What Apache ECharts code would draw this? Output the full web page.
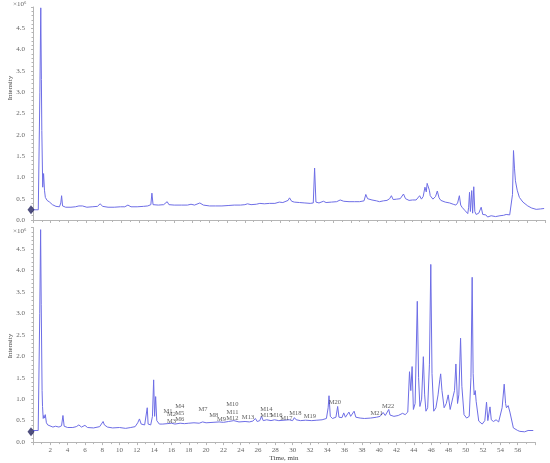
<!DOCTYPE html>
<html>
<head>
<meta charset="utf-8">
<script src="https://cdn.jsdelivr.net/npm/echarts@6/dist/echarts.min.js"></script>
<style>
  html, body { margin: 0; padding: 0; background: #fff; }
  #chart { width: 550px; height: 463px; }
</style>
</head>
<body>
<div id="chart"></div>
<script>
// tick labels
const timeTicks = [2, 4, 6, 8, 10, 12, 14, 16, 18, 20, 22, 24, 26, 28, 30, 32, 34, 36, 38, 40, 42, 44, 46, 48, 50, 52, 54, 56]
const intensityTicks = [0, 0.5, 1, 1.5, 2, 2.5, 3, 3.5, 4, 4.5]

// top chromatogram [time min, intensity x10^6]
const topTrace = [
  [0, 0.24], [0.6, 0.24], [0.7, 0.28], [0.78, 3.0], [0.88, 4.98], [0.95, 3.3], [1.0, 2.1], [1.1, 0.77], [1.2, 1.09], [1.3, 0.7],
  [1.4, 0.53], [1.6, 0.46], [1.88, 0.42], [2.2, 0.36], [2.6, 0.32], [3.0, 0.31], [3.15, 0.4], [3.24, 0.57], [3.35, 0.33], [3.7, 0.3],
  [4.3, 0.3], [4.8, 0.31], [5.2, 0.33], [5.6, 0.33], [6.1, 0.3], [6.7, 0.31], [7.3, 0.32], [7.6, 0.38], [7.9, 0.32], [8.5, 0.3],
  [9.2, 0.3], [9.9, 0.31], [10.4, 0.31], [10.75, 0.35], [11.1, 0.31], [11.8, 0.31], [12.5, 0.32], [13.0, 0.33], [13.35, 0.36], [13.47, 0.63],
  [13.6, 0.36], [14.2, 0.35], [14.8, 0.36], [15.2, 0.43], [15.4, 0.36], [16.0, 0.35], [16.8, 0.35], [17.5, 0.35], [17.9, 0.37], [18.3, 0.35],
  [18.9, 0.4], [19.3, 0.35], [20.0, 0.33], [20.7, 0.33], [21.4, 0.33], [22.1, 0.34], [22.8, 0.35], [23.5, 0.35], [24.0, 0.36], [24.3, 0.38],
  [24.7, 0.36], [25.3, 0.37], [25.7, 0.39], [26.2, 0.38], [26.8, 0.39], [27.4, 0.39], [27.9, 0.42], [28.3, 0.41], [28.9, 0.46], [29.06, 0.52],
  [29.3, 0.44], [29.6, 0.42], [30.2, 0.41], [30.8, 0.4], [31.4, 0.39], [31.75, 0.4], [31.9, 1.22], [32.05, 0.42], [32.4, 0.4], [32.9, 0.44],
  [33.2, 0.41], [33.8, 0.42], [34.4, 0.43], [34.8, 0.47], [35.2, 0.44], [35.8, 0.43], [36.4, 0.43], [37.0, 0.43], [37.5, 0.45], [37.7, 0.6],
  [37.9, 0.5], [38.1, 0.54], [38.4, 0.47], [38.9, 0.45], [39.25, 0.43], [39.7, 0.45], [40.1, 0.46], [40.4, 0.5], [40.6, 0.57], [40.8, 0.48],
  [41.2, 0.49], [41.6, 0.5], [41.97, 0.61], [42.2, 0.5], [42.6, 0.46], [43.0, 0.47], [43.4, 0.47], [43.6, 0.5], [43.8, 0.57], [44.0, 0.49],
  [44.2, 0.55], [44.4, 0.77], [44.55, 0.66], [44.65, 0.86], [44.8, 0.89], [44.9, 0.7], [45.0, 0.57], [45.3, 0.49], [45.6, 0.55], [45.8, 0.68],
  [46.0, 0.52], [46.2, 0.46], [46.7, 0.42], [47.2, 0.4], [47.6, 0.37], [47.9, 0.35], [48.1, 0.4], [48.3, 0.57], [48.45, 0.35], [48.6, 0.3],
  [48.9, 0.23], [49.25, 0.15], [49.35, 0.3], [49.45, 0.65], [49.55, 0.2], [49.62, 0.16], [49.7, 0.69], [49.8, 0.16], [49.93, 0.78], [50.05, 0.2],
  [50.2, 0.13], [50.5, 0.16], [50.77, 0.3], [50.95, 0.13], [51.1, 0.16], [51.3, 0.12], [51.5, 0.07], [51.9, 0.1], [52.4, 0.08], [52.9, 0.1],
  [53.3, 0.11], [53.6, 0.13], [54.0, 0.12], [54.2, 0.12], [54.32, 0.6], [54.43, 1.63], [54.55, 1.2], [54.65, 0.92], [54.85, 0.7], [55.1, 0.53],
  [55.5, 0.42], [56.05, 0.33], [56.5, 0.28], [57.0, 0.25], [57.5, 0.26], [57.9, 0.27]
]

// bottom chromatogram [time min, intensity x10^6]
const bottomTrace = [
  [0, 0.27], [0.6, 0.27], [0.7, 0.3], [0.78, 3.0], [0.88, 4.95], [0.95, 3.2], [1.05, 1.2], [1.1, 0.83], [1.18, 0.55], [1.26, 0.62],
  [1.35, 0.56], [1.42, 0.64], [1.55, 0.45], [1.7, 0.4], [1.9, 0.36], [2.3, 0.35], [2.6, 0.37], [3.0, 0.35], [3.3, 0.38], [3.46, 0.62],
  [3.6, 0.37], [4.0, 0.34], [4.6, 0.34], [5.0, 0.36], [5.3, 0.4], [5.6, 0.35], [6.0, 0.39], [6.3, 0.34], [7.0, 0.33], [7.7, 0.36],
  [8.1, 0.48], [8.25, 0.4], [8.4, 0.44], [8.6, 0.35], [9.2, 0.33], [10.0, 0.34], [10.7, 0.32], [11.3, 0.34], [11.8, 0.36], [12.1, 0.45],
  [12.3, 0.54], [12.5, 0.42], [12.9, 0.4], [13.1, 0.42], [13.2, 0.8], [13.3, 0.42], [13.6, 0.4], [13.8, 0.6], [13.94, 1.45], [14.05, 0.6],
  [14.17, 1.06], [14.3, 0.5], [14.6, 0.42], [15.0, 0.42], [15.5, 0.43], [16.0, 0.44], [16.4, 0.42], [17.0, 0.44], [17.5, 0.43], [18.0, 0.44],
  [18.6, 0.45], [19.2, 0.44], [19.6, 0.47], [20.0, 0.45], [20.8, 0.46], [21.5, 0.47], [22.0, 0.46], [22.6, 0.48], [23.2, 0.5], [23.8, 0.47],
  [24.5, 0.48], [25.0, 0.47], [25.4, 0.49], [25.7, 0.55], [25.9, 0.48], [26.2, 0.5], [26.4, 0.6], [26.6, 0.5], [27.0, 0.52], [27.5, 0.5],
  [27.9, 0.52], [28.4, 0.5], [29.0, 0.51], [29.6, 0.52], [30.0, 0.5], [30.2, 0.57], [30.4, 0.52], [30.9, 0.5], [31.5, 0.51], [32.2, 0.5],
  [32.8, 0.51], [33.4, 0.52], [33.9, 0.55], [34.1, 0.8], [34.2, 1.08], [34.35, 0.6], [34.6, 0.55], [35.0, 0.58], [35.2, 0.83], [35.35, 0.58],
  [35.7, 0.57], [35.9, 0.68], [36.1, 0.58], [36.5, 0.7], [36.7, 0.6], [37.1, 0.72], [37.3, 0.58], [37.8, 0.56], [38.3, 0.55], [39.0, 0.56],
  [39.7, 0.58], [40.1, 0.6], [40.45, 0.69], [40.7, 0.62], [41.1, 0.76], [41.25, 0.63], [41.4, 0.66], [41.7, 0.6], [42.2, 0.62], [42.7, 0.67],
  [43.0, 0.64], [43.3, 0.7], [43.5, 1.64], [43.65, 1.2], [43.8, 1.76], [43.95, 0.76], [44.15, 0.9], [44.4, 3.28], [44.55, 1.5], [44.7, 0.83],
  [44.9, 1.0], [45.1, 1.99], [45.25, 1.1], [45.4, 0.72], [45.6, 0.8], [45.8, 1.8], [45.96, 4.14], [46.1, 1.6], [46.3, 0.72], [46.55, 0.8],
  [46.8, 1.1], [47.0, 1.45], [47.1, 1.59], [47.25, 1.2], [47.5, 0.8], [47.75, 0.9], [47.97, 1.1], [48.2, 0.76], [48.5, 1.03], [48.7, 1.2],
  [48.86, 1.82], [49.05, 0.9], [49.2, 1.1], [49.4, 2.42], [49.55, 1.3], [49.8, 0.64], [50.1, 0.56], [50.4, 0.6], [50.6, 1.5], [50.74, 3.84],
  [50.85, 1.6], [50.97, 1.1], [51.1, 1.2], [51.2, 0.95], [51.3, 0.95], [51.5, 0.49], [51.9, 0.42], [52.2, 0.5], [52.4, 0.93], [52.55, 0.5],
  [52.8, 0.82], [52.95, 0.52], [53.2, 0.48], [53.5, 0.52], [53.8, 0.47], [54.0, 0.5], [54.2, 0.8], [54.44, 1.35], [54.6, 0.9], [54.7, 0.8],
  [54.9, 0.85], [55.1, 0.7], [55.5, 0.33], [56.0, 0.27], [56.25, 0.25], [56.8, 0.24], [57.2, 0.27], [57.8, 0.27]
]

// start markers (diamond on the y axis)
const topStart = [[0, 0.24]]
const bottomStart = [[0, 0.24]]

// metabolite labels on the bottom trace [time, intensity, name]
const peakLabels = [
  [15.6, 0.72, 'M1'], [16.0, 0.64, 'M2'], [16.0, 0.49, 'M3'],
  [16.95, 0.83, 'M4'], [16.95, 0.68, 'M5'], [16.95, 0.54, 'M6'],
  [19.64, 0.76, 'M7'], [20.88, 0.63, 'M8'], [21.77, 0.53, 'M9'],
  [23.04, 0.87, 'M10'], [23.04, 0.69, 'M11'], [23.04, 0.56, 'M12'],
  [24.84, 0.58, 'M13'], [26.97, 0.76, 'M14'], [26.97, 0.62, 'M15'],
  [28.13, 0.62, 'M16'], [29.28, 0.55, 'M17'], [30.32, 0.68, 'M18'],
  [31.98, 0.6, 'M19'], [34.87, 0.93, 'M20'], [39.69, 0.68, 'M21'],
  [41.03, 0.83, 'M22']
]

const lineColor = '#6e6ee6'
const axisGray = '#b5b5b5'
const serif = 'Liberation Serif'

const dom = document.getElementById('chart')
const myChart = echarts.init(dom, null, { renderer: 'canvas' })

function xAxisOf (gridIndex, showLabels) {
  return {
    type: 'value',
    gridIndex: gridIndex,
    min: 0,
    max: 58,
    interval: 2,
    name: showLabels ? 'Time, min' : '',
    nameLocation: 'middle',
    nameGap: 12,
    nameTextStyle: { fontFamily: serif, fontSize: 7, color: '#444' },
    axisLine: { lineStyle: { color: axisGray, width: 1 } },
    axisTick: { show: true, length: 3, lineStyle: { color: axisGray } },
    minorTick: { show: true, splitNumber: 2, length: 2, lineStyle: { color: axisGray } },
    splitLine: { show: false },
    axisLabel: {
      show: showLabels,
      margin: 5,
      fontFamily: serif,
      fontSize: 7,
      color: '#666',
      formatter: function (v) { return timeTicks.indexOf(v) >= 0 ? String(v) : '' }
    }
  }
}

function yAxisOf (gridIndex) {
  return {
    type: 'value',
    gridIndex: gridIndex,
    min: 0,
    max: 5,
    interval: 0.5,
    axisLine: { show: true, lineStyle: { color: axisGray, width: 1 } },
    axisTick: { show: true, length: 2, lineStyle: { color: axisGray } },
    minorTick: { show: true, splitNumber: 5, length: 1.5, lineStyle: { color: axisGray } },
    splitLine: { show: false },
    axisLabel: {
      margin: 8,
      fontFamily: serif,
      fontSize: 7,
      color: '#666',
      formatter: function (v) {
        return intensityTicks.indexOf(v) >= 0 ? v.toFixed(1) : ''
      }
    }
  }
}

function traceSeries (idx, data) {
  return {
    type: 'line',
    xAxisIndex: idx,
    yAxisIndex: idx,
    data: data,
    showSymbol: false,
    smooth: false,
    lineStyle: { color: lineColor, width: 1 },
    silent: true
  }
}

function startSeries (idx, data) {
  return {
    type: 'scatter',
    xAxisIndex: idx,
    yAxisIndex: idx,
    data: data,
    symbol: 'diamond',
    symbolSize: [7, 9],
    symbolOffset: [-2, 0],
    clip: false,
    itemStyle: { color: '#23235e' },
    z: 5
  }
}

const option = {
  animation: false,
  backgroundColor: '#fff',
  grid: [
    { left: 33, top: 7, width: 512, height: 213 },
    { left: 33, top: 227.5, width: 502, height: 215 }
  ],
  xAxis: [xAxisOf(0, false), xAxisOf(1, true)],
  yAxis: [yAxisOf(0), yAxisOf(1)],
  graphic: [
    { type: 'text', left: 13, top: 1, style: { text: '×10⁶', font: '7px "Liberation Serif"', fill: '#666' } },
    { type: 'text', left: 13, top: 228, style: { text: '×10⁶', font: '7px "Liberation Serif"', fill: '#666' } },
    { type: 'text', x: 10, y: 88, rotation: Math.PI / 2, style: { text: 'Intensity', font: '7px "Liberation Serif"', fill: '#444', align: 'center', verticalAlign: 'middle' } },
    { type: 'text', x: 10, y: 346, rotation: Math.PI / 2, style: { text: 'Intensity', font: '7px "Liberation Serif"', fill: '#444', align: 'center', verticalAlign: 'middle' } }
  ],
  series: [
    traceSeries(0, topTrace),
    traceSeries(1, bottomTrace),
    startSeries(0, topStart),
    startSeries(1, bottomStart),
    {
      type: 'scatter',
      xAxisIndex: 1,
      yAxisIndex: 1,
      data: peakLabels,
      symbolSize: 1,
      itemStyle: { color: 'rgba(0,0,0,0)' },
      label: {
        show: true,
        position: 'inside',
        formatter: function (p) { return p.data[2] },
        fontFamily: serif,
        fontSize: 6.5,
        color: '#333'
      },
      z: 6
    }
  ]
}

myChart.setOption(option)
</script>
</body>
</html>
